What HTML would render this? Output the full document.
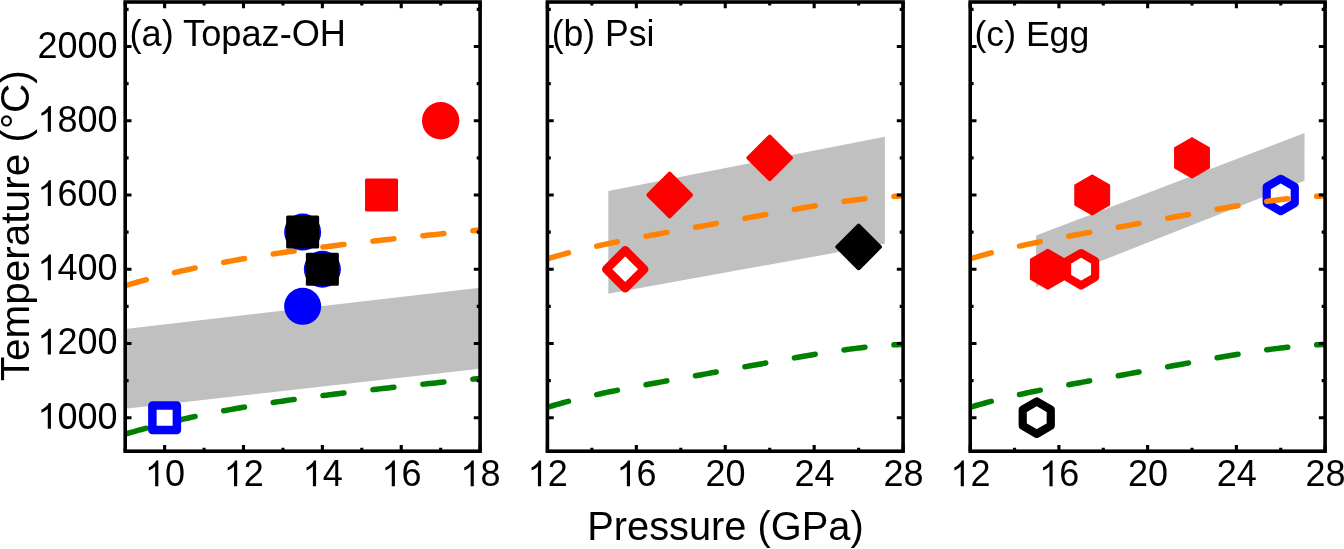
<!DOCTYPE html>
<html><head><meta charset="utf-8"><style>
html,body{margin:0;padding:0;background:#fff;}
svg{display:block;font-family:"Liberation Sans",sans-serif;will-change:transform;}
</style></head><body>
<svg width="1344" height="549" viewBox="0 0 1344 549">
<rect width="1344" height="549" fill="#fff"/>
<defs><clipPath id="clipa"><rect x="125.2" y="2.0" width="354.90" height="449.20"/></clipPath><clipPath id="clipb"><rect x="547.4" y="2.0" width="355.70" height="449.20"/></clipPath><clipPath id="clipc"><rect x="970.2" y="2.0" width="354.90" height="449.20"/></clipPath></defs>
<g clip-path="url(#clipa)"><polygon points="125.20,328.98 480.10,287.71 480.10,368.78 125.20,408.87" fill="#c0c0c0"/></g>
<g clip-path="url(#clipa)" fill="none" stroke-width="5.5" stroke-linecap="round" stroke-dasharray="21.2 29.05" stroke-dashoffset="-0.7"><path d="M125.20,434.13 L128.16,433.26 L131.12,432.40 L134.07,431.55 L137.03,430.72 L139.99,429.89 L142.94,429.08 L145.90,428.28 L148.86,427.50 L151.82,426.72 L154.78,425.95 L157.73,425.20 L160.69,424.45 L163.65,423.72 L166.61,422.99 L169.56,422.28 L172.52,421.57 L175.48,420.88 L178.44,420.20 L181.39,419.52 L184.35,418.86 L187.31,418.20 L190.27,417.55 L193.22,416.91 L196.18,416.28 L199.14,415.66 L202.09,415.05 L205.05,414.44 L208.01,413.85 L210.97,413.26 L213.93,412.68 L216.88,412.10 L219.84,411.54 L222.80,410.98 L225.76,410.43 L228.71,409.89 L231.67,409.35 L234.63,408.82 L237.58,408.30 L240.54,407.78 L243.50,407.27 L246.46,406.77 L249.42,406.27 L252.37,405.78 L255.33,405.30 L258.29,404.82 L261.25,404.34 L264.20,403.88 L267.16,403.41 L270.12,402.96 L273.08,402.51 L276.03,402.06 L278.99,401.62 L281.95,401.18 L284.91,400.75 L287.86,400.32 L290.82,399.90 L293.78,399.48 L296.74,399.07 L299.69,398.66 L302.65,398.26 L305.61,397.86 L308.57,397.46 L311.52,397.07 L314.48,396.68 L317.44,396.29 L320.39,395.91 L323.35,395.53 L326.31,395.16 L329.27,394.79 L332.23,394.42 L335.18,394.05 L338.14,393.69 L341.10,393.33 L344.06,392.97 L347.01,392.62 L349.97,392.27 L352.93,391.92 L355.88,391.57 L358.84,391.23 L361.80,390.89 L364.76,390.55 L367.72,390.21 L370.67,389.88 L373.63,389.55 L376.59,389.22 L379.55,388.89 L382.50,388.56 L385.46,388.23 L388.42,387.91 L391.38,387.59 L394.33,387.27 L397.29,386.95 L400.25,386.63 L403.21,386.32 L406.16,386.00 L409.12,385.69 L412.08,385.37 L415.04,385.06 L417.99,384.75 L420.95,384.44 L423.91,384.13 L426.86,383.83 L429.82,383.52 L432.78,383.21 L435.74,382.91 L438.69,382.60 L441.65,382.30 L444.61,382.00 L447.57,381.70 L450.53,381.39 L453.48,381.09 L456.44,380.79 L459.40,380.49 L462.36,380.19 L465.31,379.89 L468.27,379.59 L471.23,379.29 L474.19,378.99 L477.14,378.69 L480.10,378.39" stroke="#008000"/><path d="M125.20,285.65 L128.16,284.78 L131.12,283.92 L134.07,283.07 L137.03,282.24 L139.99,281.41 L142.94,280.60 L145.90,279.80 L148.86,279.02 L151.82,278.24 L154.78,277.47 L157.73,276.72 L160.69,275.97 L163.65,275.24 L166.61,274.51 L169.56,273.80 L172.52,273.09 L175.48,272.40 L178.44,271.72 L181.39,271.04 L184.35,270.38 L187.31,269.72 L190.27,269.07 L193.22,268.43 L196.18,267.80 L199.14,267.18 L202.09,266.57 L205.05,265.96 L208.01,265.37 L210.97,264.78 L213.93,264.20 L216.88,263.62 L219.84,263.06 L222.80,262.50 L225.76,261.95 L228.71,261.41 L231.67,260.87 L234.63,260.34 L237.58,259.82 L240.54,259.30 L243.50,258.79 L246.46,258.29 L249.42,257.79 L252.37,257.30 L255.33,256.82 L258.29,256.34 L261.25,255.86 L264.20,255.40 L267.16,254.93 L270.12,254.48 L273.08,254.03 L276.03,253.58 L278.99,253.14 L281.95,252.70 L284.91,252.27 L287.86,251.84 L290.82,251.42 L293.78,251.00 L296.74,250.59 L299.69,250.18 L302.65,249.78 L305.61,249.38 L308.57,248.98 L311.52,248.59 L314.48,248.20 L317.44,247.81 L320.39,247.43 L323.35,247.05 L326.31,246.68 L329.27,246.31 L332.23,245.94 L335.18,245.57 L338.14,245.21 L341.10,244.85 L344.06,244.49 L347.01,244.14 L349.97,243.79 L352.93,243.44 L355.88,243.09 L358.84,242.75 L361.80,242.41 L364.76,242.07 L367.72,241.73 L370.67,241.40 L373.63,241.07 L376.59,240.74 L379.55,240.41 L382.50,240.08 L385.46,239.75 L388.42,239.43 L391.38,239.11 L394.33,238.79 L397.29,238.47 L400.25,238.15 L403.21,237.84 L406.16,237.52 L409.12,237.21 L412.08,236.89 L415.04,236.58 L417.99,236.27 L420.95,235.96 L423.91,235.65 L426.86,235.35 L429.82,235.04 L432.78,234.73 L435.74,234.43 L438.69,234.12 L441.65,233.82 L444.61,233.52 L447.57,233.22 L450.53,232.91 L453.48,232.61 L456.44,232.31 L459.40,232.01 L462.36,231.71 L465.31,231.41 L468.27,231.11 L471.23,230.81 L474.19,230.51 L477.14,230.21 L480.10,229.91" stroke="#ff8300"/></g>
<rect x="152.38" y="405.45" width="24.5" height="24.5" fill="#fff" stroke="#0000ff" stroke-width="8.5" stroke-linejoin="round"/>
<circle cx="302.65" cy="232.10" r="18.5" fill="#0000ff"/>
<circle cx="322.37" cy="269.22" r="18.5" fill="#0000ff"/>
<circle cx="302.65" cy="306.34" r="18.5" fill="#0000ff"/>
<rect x="286.15" y="215.60" width="33" height="33" rx="1.5" fill="#000000"/>
<rect x="305.87" y="252.72" width="33" height="33" rx="1.5" fill="#000000"/>
<rect x="365.02" y="178.48" width="33" height="33" rx="1.5" fill="#ff0000"/>
<circle cx="440.67" cy="120.74" r="18.7" fill="#ff0000"/>
<rect x="125.2" y="2.0" width="354.90" height="449.20" fill="none" stroke="#000" stroke-width="3.6"/><path d="M125.2,417.70h6.3M480.1,417.70h-6.3M125.2,380.58h3.4M480.1,380.58h-3.4M125.2,343.46h6.3M480.1,343.46h-6.3M125.2,306.34h3.4M480.1,306.34h-3.4M125.2,269.22h6.3M480.1,269.22h-6.3M125.2,232.10h3.4M480.1,232.10h-3.4M125.2,194.98h6.3M480.1,194.98h-6.3M125.2,157.86h3.4M480.1,157.86h-3.4M125.2,120.74h6.3M480.1,120.74h-6.3M125.2,83.62h3.4M480.1,83.62h-3.4M125.2,46.50h6.3M480.1,46.50h-6.3M125.2,9.38h3.4M480.1,9.38h-3.4M164.63,451.2v-6.3M164.63,2.0v6.3M243.50,451.2v-6.3M243.50,2.0v6.3M322.37,451.2v-6.3M322.37,2.0v6.3M401.23,451.2v-6.3M401.23,2.0v6.3M480.10,451.2v-6.3M480.10,2.0v6.3M125.20,451.2v-3.4M125.20,2.0v3.4M204.07,451.2v-3.4M204.07,2.0v3.4M282.93,451.2v-3.4M282.93,2.0v3.4M361.80,451.2v-3.4M361.80,2.0v3.4M440.67,451.2v-3.4M440.67,2.0v3.4" stroke="#000" stroke-width="3.1" fill="none"/>
<polygon points="608.31,190.90 884.87,136.70 884.87,243.79 608.31,293.72" fill="#c0c0c0"/>
<polygon points="625.21,250.32 644.11,269.22 625.21,288.12 606.31,269.22" fill="#fff" stroke="#ff0000" stroke-width="8.6" stroke-linejoin="round"/>
<polygon points="669.67,173.68 690.97,194.98 669.67,216.28 648.37,194.98" fill="#ff0000" stroke="#ff0000" stroke-width="4" stroke-linejoin="round"/>
<polygon points="769.71,136.56 791.01,157.86 769.71,179.16 748.41,157.86" fill="#ff0000" stroke="#ff0000" stroke-width="4" stroke-linejoin="round"/>
<polygon points="858.64,225.65 879.94,246.95 858.64,268.25 837.34,246.95" fill="#000000" stroke="#000000" stroke-width="4" stroke-linejoin="round"/>
<g clip-path="url(#clipb)" fill="none" stroke-width="5.5" stroke-linecap="round" stroke-dasharray="21.2 29.05" stroke-dashoffset="-0.7"><path d="M547.40,407.27 L550.36,406.38 L553.33,405.51 L556.29,404.66 L559.26,403.82 L562.22,403.01 L565.18,402.21 L568.15,401.42 L571.11,400.66 L574.08,399.90 L577.04,399.16 L580.01,398.44 L582.97,397.72 L585.93,397.02 L588.90,396.34 L591.86,395.66 L594.83,394.99 L597.79,394.34 L600.75,393.69 L603.72,393.05 L606.68,392.43 L609.65,391.81 L612.61,391.19 L615.58,390.59 L618.54,389.99 L621.50,389.40 L624.47,388.81 L627.43,388.23 L630.40,387.66 L633.36,387.09 L636.33,386.53 L639.29,385.97 L642.25,385.41 L645.22,384.86 L648.18,384.31 L651.15,383.76 L654.11,383.21 L657.07,382.67 L660.04,382.13 L663.00,381.59 L665.97,381.06 L668.93,380.52 L671.89,379.99 L674.86,379.46 L677.82,378.92 L680.79,378.39 L683.75,377.86 L686.72,377.33 L689.68,376.80 L692.64,376.27 L695.61,375.73 L698.57,375.20 L701.54,374.67 L704.50,374.14 L707.46,373.61 L710.43,373.07 L713.39,372.54 L716.36,372.00 L719.32,371.47 L722.29,370.93 L725.25,370.39 L728.21,369.86 L731.18,369.32 L734.14,368.78 L737.11,368.24 L740.07,367.70 L743.04,367.16 L746.00,366.62 L748.96,366.08 L751.93,365.54 L754.89,365.00 L757.86,364.46 L760.82,363.92 L763.78,363.38 L766.75,362.84 L769.71,362.30 L772.68,361.77 L775.64,361.23 L778.61,360.70 L781.57,360.16 L784.53,359.63 L787.50,359.11 L790.46,358.58 L793.43,358.06 L796.39,357.54 L799.35,357.02 L802.32,356.51 L805.28,356.00 L808.25,355.50 L811.21,355.00 L814.17,354.51 L817.14,354.02 L820.10,353.54 L823.07,353.06 L826.03,352.59 L829.00,352.13 L831.96,351.68 L834.92,351.23 L837.89,350.79 L840.85,350.36 L843.82,349.95 L846.78,349.54 L849.75,349.14 L852.71,348.75 L855.67,348.38 L858.64,348.02 L861.60,347.67 L864.57,347.33 L867.53,347.01 L870.49,346.70 L873.46,346.41 L876.42,346.14 L879.39,345.88 L882.35,345.63 L885.32,345.41 L888.28,345.20 L891.24,345.02 L894.21,344.85 L897.17,344.71 L900.14,344.58 L903.10,344.48" stroke="#008000"/><path d="M547.40,258.79 L550.36,257.90 L553.33,257.03 L556.29,256.18 L559.26,255.34 L562.22,254.53 L565.18,253.73 L568.15,252.94 L571.11,252.18 L574.08,251.42 L577.04,250.68 L580.01,249.96 L582.97,249.24 L585.93,248.54 L588.90,247.86 L591.86,247.18 L594.83,246.51 L597.79,245.86 L600.75,245.21 L603.72,244.57 L606.68,243.95 L609.65,243.33 L612.61,242.71 L615.58,242.11 L618.54,241.51 L621.50,240.92 L624.47,240.33 L627.43,239.75 L630.40,239.18 L633.36,238.61 L636.33,238.05 L639.29,237.49 L642.25,236.93 L645.22,236.38 L648.18,235.83 L651.15,235.28 L654.11,234.73 L657.07,234.19 L660.04,233.65 L663.00,233.11 L665.97,232.58 L668.93,232.04 L671.89,231.51 L674.86,230.98 L677.82,230.44 L680.79,229.91 L683.75,229.38 L686.72,228.85 L689.68,228.32 L692.64,227.79 L695.61,227.25 L698.57,226.72 L701.54,226.19 L704.50,225.66 L707.46,225.13 L710.43,224.59 L713.39,224.06 L716.36,223.52 L719.32,222.99 L722.29,222.45 L725.25,221.91 L728.21,221.38 L731.18,220.84 L734.14,220.30 L737.11,219.76 L740.07,219.22 L743.04,218.68 L746.00,218.14 L748.96,217.60 L751.93,217.06 L754.89,216.52 L757.86,215.98 L760.82,215.44 L763.78,214.90 L766.75,214.36 L769.71,213.82 L772.68,213.29 L775.64,212.75 L778.61,212.22 L781.57,211.68 L784.53,211.15 L787.50,210.63 L790.46,210.10 L793.43,209.58 L796.39,209.06 L799.35,208.54 L802.32,208.03 L805.28,207.52 L808.25,207.02 L811.21,206.52 L814.17,206.03 L817.14,205.54 L820.10,205.06 L823.07,204.58 L826.03,204.11 L829.00,203.65 L831.96,203.20 L834.92,202.75 L837.89,202.31 L840.85,201.88 L843.82,201.47 L846.78,201.06 L849.75,200.66 L852.71,200.27 L855.67,199.90 L858.64,199.54 L861.60,199.19 L864.57,198.85 L867.53,198.53 L870.49,198.22 L873.46,197.93 L876.42,197.66 L879.39,197.40 L882.35,197.15 L885.32,196.93 L888.28,196.72 L891.24,196.54 L894.21,196.37 L897.17,196.23 L900.14,196.10 L903.10,196.00" stroke="#ff8300"/></g>
<rect x="547.4" y="2.0" width="355.70" height="449.20" fill="none" stroke="#000" stroke-width="3.6"/><path d="M547.4,417.70h6.3M903.1,417.70h-6.3M547.4,380.58h3.4M903.1,380.58h-3.4M547.4,343.46h6.3M903.1,343.46h-6.3M547.4,306.34h3.4M903.1,306.34h-3.4M547.4,269.22h6.3M903.1,269.22h-6.3M547.4,232.10h3.4M903.1,232.10h-3.4M547.4,194.98h6.3M903.1,194.98h-6.3M547.4,157.86h3.4M903.1,157.86h-3.4M547.4,120.74h6.3M903.1,120.74h-6.3M547.4,83.62h3.4M903.1,83.62h-3.4M547.4,46.50h6.3M903.1,46.50h-6.3M547.4,9.38h3.4M903.1,9.38h-3.4M547.40,451.2v-6.3M547.40,2.0v6.3M636.33,451.2v-6.3M636.33,2.0v6.3M725.25,451.2v-6.3M725.25,2.0v6.3M814.17,451.2v-6.3M814.17,2.0v6.3M903.10,451.2v-6.3M903.10,2.0v6.3M591.86,451.2v-3.4M591.86,2.0v3.4M680.79,451.2v-3.4M680.79,2.0v3.4M769.71,451.2v-3.4M769.71,2.0v3.4M858.64,451.2v-3.4M858.64,2.0v3.4" stroke="#000" stroke-width="3.1" fill="none"/>
<polygon points="1036.08,235.44 1304.47,133.10 1304.47,180.69 1036.08,286.67" fill="#c0c0c0"/>
<polygon points="1047.83,249.22 1065.15,259.22 1065.15,279.22 1047.83,289.22 1030.51,279.22 1030.51,259.22" fill="#ff0000" stroke="#ff0000" stroke-width="1.2" stroke-linejoin="round"/>
<polygon points="1081.11,253.02 1095.14,261.12 1095.14,277.32 1081.11,285.42 1067.08,277.32 1067.08,261.12" fill="#fff" stroke="#ff0000" stroke-width="8.2" stroke-linejoin="round"/>
<polygon points="1092.20,174.98 1109.52,184.98 1109.52,204.98 1092.20,214.98 1074.88,204.98 1074.88,184.98" fill="#ff0000" stroke="#ff0000" stroke-width="1.2" stroke-linejoin="round"/>
<polygon points="1192.01,137.86 1209.33,147.86 1209.33,167.86 1192.01,177.86 1174.69,167.86 1174.69,147.86" fill="#ff0000" stroke="#ff0000" stroke-width="1.2" stroke-linejoin="round"/>
<polygon points="1280.74,178.78 1294.77,186.88 1294.77,203.08 1280.74,211.18 1266.71,203.08 1266.71,186.88" fill="#fff" stroke="#0000ff" stroke-width="8.2" stroke-linejoin="round"/>
<polygon points="1036.74,401.50 1050.77,409.60 1050.77,425.80 1036.74,433.90 1022.71,425.80 1022.71,409.60" fill="#fff" stroke="#000000" stroke-width="8.2" stroke-linejoin="round"/>
<g clip-path="url(#clipc)" fill="none" stroke-width="5.5" stroke-linecap="round" stroke-dasharray="21.2 29.05" stroke-dashoffset="-0.7"><path d="M970.20,407.27 L973.16,406.38 L976.12,405.51 L979.07,404.66 L982.03,403.82 L984.99,403.01 L987.95,402.21 L990.90,401.42 L993.86,400.66 L996.82,399.90 L999.78,399.16 L1002.73,398.44 L1005.69,397.72 L1008.65,397.02 L1011.61,396.34 L1014.56,395.66 L1017.52,394.99 L1020.48,394.34 L1023.44,393.69 L1026.39,393.05 L1029.35,392.43 L1032.31,391.81 L1035.27,391.19 L1038.22,390.59 L1041.18,389.99 L1044.14,389.40 L1047.10,388.81 L1050.05,388.23 L1053.01,387.66 L1055.97,387.09 L1058.92,386.53 L1061.88,385.97 L1064.84,385.41 L1067.80,384.86 L1070.75,384.31 L1073.71,383.76 L1076.67,383.21 L1079.63,382.67 L1082.59,382.13 L1085.54,381.59 L1088.50,381.06 L1091.46,380.52 L1094.41,379.99 L1097.37,379.46 L1100.33,378.92 L1103.29,378.39 L1106.24,377.86 L1109.20,377.33 L1112.16,376.80 L1115.12,376.27 L1118.08,375.73 L1121.03,375.20 L1123.99,374.67 L1126.95,374.14 L1129.90,373.61 L1132.86,373.07 L1135.82,372.54 L1138.78,372.00 L1141.74,371.47 L1144.69,370.93 L1147.65,370.39 L1150.61,369.86 L1153.57,369.32 L1156.52,368.78 L1159.48,368.24 L1162.44,367.70 L1165.39,367.16 L1168.35,366.62 L1171.31,366.08 L1174.27,365.54 L1177.22,365.00 L1180.18,364.46 L1183.14,363.92 L1186.10,363.38 L1189.06,362.84 L1192.01,362.30 L1194.97,361.77 L1197.93,361.23 L1200.88,360.70 L1203.84,360.16 L1206.80,359.63 L1209.76,359.11 L1212.71,358.58 L1215.67,358.06 L1218.63,357.54 L1221.59,357.02 L1224.55,356.51 L1227.50,356.00 L1230.46,355.50 L1233.42,355.00 L1236.38,354.51 L1239.33,354.02 L1242.29,353.54 L1245.25,353.06 L1248.20,352.59 L1251.16,352.13 L1254.12,351.68 L1257.08,351.23 L1260.03,350.79 L1262.99,350.36 L1265.95,349.95 L1268.91,349.54 L1271.87,349.14 L1274.82,348.75 L1277.78,348.38 L1280.74,348.02 L1283.69,347.67 L1286.65,347.33 L1289.61,347.01 L1292.57,346.70 L1295.52,346.41 L1298.48,346.14 L1301.44,345.88 L1304.40,345.63 L1307.36,345.41 L1310.31,345.20 L1313.27,345.02 L1316.23,344.85 L1319.18,344.71 L1322.14,344.58 L1325.10,344.48" stroke="#008000"/><path d="M970.20,258.79 L973.16,257.90 L976.12,257.03 L979.07,256.18 L982.03,255.34 L984.99,254.53 L987.95,253.73 L990.90,252.94 L993.86,252.18 L996.82,251.42 L999.78,250.68 L1002.73,249.96 L1005.69,249.24 L1008.65,248.54 L1011.61,247.86 L1014.56,247.18 L1017.52,246.51 L1020.48,245.86 L1023.44,245.21 L1026.39,244.57 L1029.35,243.95 L1032.31,243.33 L1035.27,242.71 L1038.22,242.11 L1041.18,241.51 L1044.14,240.92 L1047.10,240.33 L1050.05,239.75 L1053.01,239.18 L1055.97,238.61 L1058.92,238.05 L1061.88,237.49 L1064.84,236.93 L1067.80,236.38 L1070.75,235.83 L1073.71,235.28 L1076.67,234.73 L1079.63,234.19 L1082.59,233.65 L1085.54,233.11 L1088.50,232.58 L1091.46,232.04 L1094.41,231.51 L1097.37,230.98 L1100.33,230.44 L1103.29,229.91 L1106.24,229.38 L1109.20,228.85 L1112.16,228.32 L1115.12,227.79 L1118.08,227.25 L1121.03,226.72 L1123.99,226.19 L1126.95,225.66 L1129.90,225.13 L1132.86,224.59 L1135.82,224.06 L1138.78,223.52 L1141.74,222.99 L1144.69,222.45 L1147.65,221.91 L1150.61,221.38 L1153.57,220.84 L1156.52,220.30 L1159.48,219.76 L1162.44,219.22 L1165.39,218.68 L1168.35,218.14 L1171.31,217.60 L1174.27,217.06 L1177.22,216.52 L1180.18,215.98 L1183.14,215.44 L1186.10,214.90 L1189.06,214.36 L1192.01,213.82 L1194.97,213.29 L1197.93,212.75 L1200.88,212.22 L1203.84,211.68 L1206.80,211.15 L1209.76,210.63 L1212.71,210.10 L1215.67,209.58 L1218.63,209.06 L1221.59,208.54 L1224.55,208.03 L1227.50,207.52 L1230.46,207.02 L1233.42,206.52 L1236.38,206.03 L1239.33,205.54 L1242.29,205.06 L1245.25,204.58 L1248.20,204.11 L1251.16,203.65 L1254.12,203.20 L1257.08,202.75 L1260.03,202.31 L1262.99,201.88 L1265.95,201.47 L1268.91,201.06 L1271.87,200.66 L1274.82,200.27 L1277.78,199.90 L1280.74,199.54 L1283.69,199.19 L1286.65,198.85 L1289.61,198.53 L1292.57,198.22 L1295.52,197.93 L1298.48,197.66 L1301.44,197.40 L1304.40,197.15 L1307.36,196.93 L1310.31,196.72 L1313.27,196.54 L1316.23,196.37 L1319.18,196.23 L1322.14,196.10 L1325.10,196.00" stroke="#ff8300"/></g>
<rect x="970.2" y="2.0" width="354.90" height="449.20" fill="none" stroke="#000" stroke-width="3.6"/><path d="M970.2,417.70h6.3M1325.1,417.70h-6.3M970.2,380.58h3.4M1325.1,380.58h-3.4M970.2,343.46h6.3M1325.1,343.46h-6.3M970.2,306.34h3.4M1325.1,306.34h-3.4M970.2,269.22h6.3M1325.1,269.22h-6.3M970.2,232.10h3.4M1325.1,232.10h-3.4M970.2,194.98h6.3M1325.1,194.98h-6.3M970.2,157.86h3.4M1325.1,157.86h-3.4M970.2,120.74h6.3M1325.1,120.74h-6.3M970.2,83.62h3.4M1325.1,83.62h-3.4M970.2,46.50h6.3M1325.1,46.50h-6.3M970.2,9.38h3.4M1325.1,9.38h-3.4M970.20,451.2v-6.3M970.20,2.0v6.3M1058.92,451.2v-6.3M1058.92,2.0v6.3M1147.65,451.2v-6.3M1147.65,2.0v6.3M1236.38,451.2v-6.3M1236.38,2.0v6.3M1325.10,451.2v-6.3M1325.10,2.0v6.3M1014.56,451.2v-3.4M1014.56,2.0v3.4M1103.29,451.2v-3.4M1103.29,2.0v3.4M1192.01,451.2v-3.4M1192.01,2.0v3.4M1280.74,451.2v-3.4M1280.74,2.0v3.4" stroke="#000" stroke-width="3.1" fill="none"/>
<g font-family="Liberation Sans, sans-serif" font-size="36" fill="#000"><path d="M583,0 L763,0 L763,1466 L646,1466 C600,1374 520,1280 420,1200 C340,1136 270,1096 223,1078 L223,904 C300,932 380,975 460,1030 C510,1064 553,1100 583,1135 Z" transform="translate(37.51,428.70) scale(0.01758,-0.01758)"/><text transform="translate(57.54,428.70) scale(1,1.02)">0</text><text transform="translate(77.56,428.70) scale(1,1.02)">0</text><text transform="translate(97.58,428.70) scale(1,1.02)">0</text>
<path d="M583,0 L763,0 L763,1466 L646,1466 C600,1374 520,1280 420,1200 C340,1136 270,1096 223,1078 L223,904 C300,932 380,975 460,1030 C510,1064 553,1100 583,1135 Z" transform="translate(37.51,354.46) scale(0.01758,-0.01758)"/><text transform="translate(57.54,354.46) scale(1,1.02)">2</text><text transform="translate(77.56,354.46) scale(1,1.02)">0</text><text transform="translate(97.58,354.46) scale(1,1.02)">0</text>
<path d="M583,0 L763,0 L763,1466 L646,1466 C600,1374 520,1280 420,1200 C340,1136 270,1096 223,1078 L223,904 C300,932 380,975 460,1030 C510,1064 553,1100 583,1135 Z" transform="translate(37.51,280.22) scale(0.01758,-0.01758)"/><text transform="translate(57.54,280.22) scale(1,1.02)">4</text><text transform="translate(77.56,280.22) scale(1,1.02)">0</text><text transform="translate(97.58,280.22) scale(1,1.02)">0</text>
<path d="M583,0 L763,0 L763,1466 L646,1466 C600,1374 520,1280 420,1200 C340,1136 270,1096 223,1078 L223,904 C300,932 380,975 460,1030 C510,1064 553,1100 583,1135 Z" transform="translate(37.51,205.98) scale(0.01758,-0.01758)"/><text transform="translate(57.54,205.98) scale(1,1.02)">6</text><text transform="translate(77.56,205.98) scale(1,1.02)">0</text><text transform="translate(97.58,205.98) scale(1,1.02)">0</text>
<path d="M583,0 L763,0 L763,1466 L646,1466 C600,1374 520,1280 420,1200 C340,1136 270,1096 223,1078 L223,904 C300,932 380,975 460,1030 C510,1064 553,1100 583,1135 Z" transform="translate(37.51,131.74) scale(0.01758,-0.01758)"/><text transform="translate(57.54,131.74) scale(1,1.02)">8</text><text transform="translate(77.56,131.74) scale(1,1.02)">0</text><text transform="translate(97.58,131.74) scale(1,1.02)">0</text>
<text transform="translate(37.51,57.50) scale(1,1.02)">2</text><text transform="translate(57.54,57.50) scale(1,1.02)">0</text><text transform="translate(77.56,57.50) scale(1,1.02)">0</text><text transform="translate(97.58,57.50) scale(1,1.02)">0</text>
<path d="M583,0 L763,0 L763,1466 L646,1466 C600,1374 520,1280 420,1200 C340,1136 270,1096 223,1078 L223,904 C300,932 380,975 460,1030 C510,1064 553,1100 583,1135 Z" transform="translate(144.91,486.30) scale(0.01758,-0.01758)"/><text transform="translate(164.93,486.30) scale(1,1.02)">0</text>
<path d="M583,0 L763,0 L763,1466 L646,1466 C600,1374 520,1280 420,1200 C340,1136 270,1096 223,1078 L223,904 C300,932 380,975 460,1030 C510,1064 553,1100 583,1135 Z" transform="translate(223.78,486.30) scale(0.01758,-0.01758)"/><text transform="translate(243.80,486.30) scale(1,1.02)">2</text>
<path d="M583,0 L763,0 L763,1466 L646,1466 C600,1374 520,1280 420,1200 C340,1136 270,1096 223,1078 L223,904 C300,932 380,975 460,1030 C510,1064 553,1100 583,1135 Z" transform="translate(302.65,486.30) scale(0.01758,-0.01758)"/><text transform="translate(322.67,486.30) scale(1,1.02)">4</text>
<path d="M583,0 L763,0 L763,1466 L646,1466 C600,1374 520,1280 420,1200 C340,1136 270,1096 223,1078 L223,904 C300,932 380,975 460,1030 C510,1064 553,1100 583,1135 Z" transform="translate(381.51,486.30) scale(0.01758,-0.01758)"/><text transform="translate(401.53,486.30) scale(1,1.02)">6</text>
<path d="M583,0 L763,0 L763,1466 L646,1466 C600,1374 520,1280 420,1200 C340,1136 270,1096 223,1078 L223,904 C300,932 380,975 460,1030 C510,1064 553,1100 583,1135 Z" transform="translate(460.38,486.30) scale(0.01758,-0.01758)"/><text transform="translate(480.40,486.30) scale(1,1.02)">8</text>
<path d="M583,0 L763,0 L763,1466 L646,1466 C600,1374 520,1280 420,1200 C340,1136 270,1096 223,1078 L223,904 C300,932 380,975 460,1030 C510,1064 553,1100 583,1135 Z" transform="translate(527.68,486.30) scale(0.01758,-0.01758)"/><text transform="translate(547.70,486.30) scale(1,1.02)">2</text>
<path d="M583,0 L763,0 L763,1466 L646,1466 C600,1374 520,1280 420,1200 C340,1136 270,1096 223,1078 L223,904 C300,932 380,975 460,1030 C510,1064 553,1100 583,1135 Z" transform="translate(616.60,486.30) scale(0.01758,-0.01758)"/><text transform="translate(636.62,486.30) scale(1,1.02)">6</text>
<text transform="translate(705.53,486.30) scale(1,1.02)">2</text><text transform="translate(725.55,486.30) scale(1,1.02)">0</text>
<text transform="translate(794.45,486.30) scale(1,1.02)">2</text><text transform="translate(814.47,486.30) scale(1,1.02)">4</text>
<text transform="translate(883.38,486.30) scale(1,1.02)">2</text><text transform="translate(903.40,486.30) scale(1,1.02)">8</text>
<path d="M583,0 L763,0 L763,1466 L646,1466 C600,1374 520,1280 420,1200 C340,1136 270,1096 223,1078 L223,904 C300,932 380,975 460,1030 C510,1064 553,1100 583,1135 Z" transform="translate(950.48,486.30) scale(0.01758,-0.01758)"/><text transform="translate(970.50,486.30) scale(1,1.02)">2</text>
<path d="M583,0 L763,0 L763,1466 L646,1466 C600,1374 520,1280 420,1200 C340,1136 270,1096 223,1078 L223,904 C300,932 380,975 460,1030 C510,1064 553,1100 583,1135 Z" transform="translate(1039.20,486.30) scale(0.01758,-0.01758)"/><text transform="translate(1059.22,486.30) scale(1,1.02)">6</text>
<text transform="translate(1127.93,486.30) scale(1,1.02)">2</text><text transform="translate(1147.95,486.30) scale(1,1.02)">0</text>
<text transform="translate(1216.65,486.30) scale(1,1.02)">2</text><text transform="translate(1236.67,486.30) scale(1,1.02)">4</text>
<text transform="translate(1305.38,486.30) scale(1,1.02)">2</text><text transform="translate(1325.40,486.30) scale(1,1.02)">8</text>
<text transform="translate(129.50,46) scale(1,1.02)" font-size="36.2">(a) Topaz-OH</text>
<text transform="translate(551.70,46) scale(1,1.035)" font-size="35.6">(b) Psi</text>
<text transform="translate(974.50,46) scale(1,1.01)" font-size="35.6">(c) Egg</text>
<text transform="translate(587.2,540) scale(1,1.035)" font-size="39.8">Pressure (GPa)</text>
<text transform="translate(29.2,381.2) rotate(-90)" font-size="40.5">Temperature (°C)</text></g>
</svg>
</body></html>
